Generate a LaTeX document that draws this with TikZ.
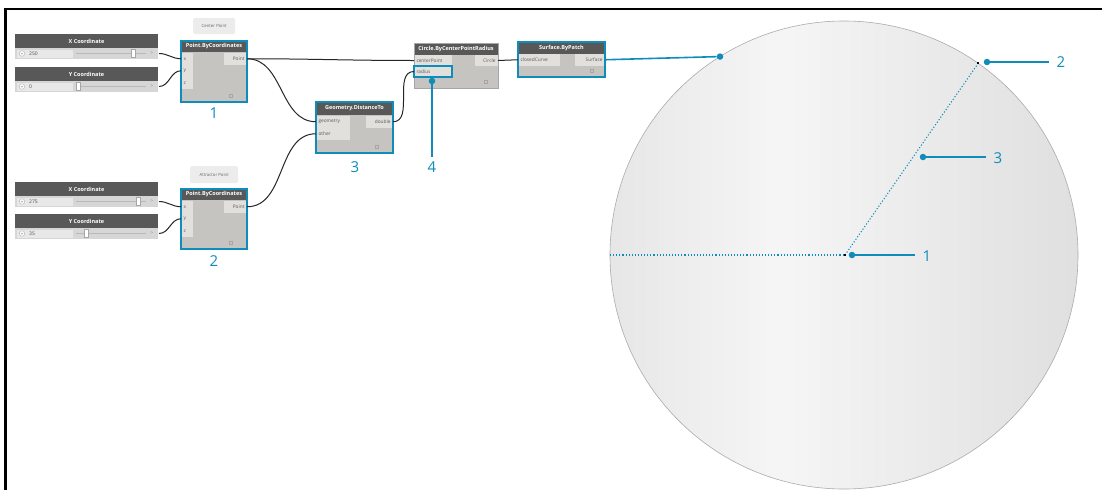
\documentclass[tikz,border=0pt]{standalone}
\usepackage{fontspec}
\setmainfont{Open Sans}
\usetikzlibrary{calc}
\definecolor{dblue}{RGB}{16,140,186}
\definecolor{headgray}{RGB}{88,88,88}
\definecolor{bodygray}{RGB}{198,196,192}
\definecolor{portgray}{RGB}{226,224,220}
\definecolor{slidergray}{RGB}{214,214,214}
\definecolor{valgray}{RGB}{232,232,232}
\definecolor{notegray}{RGB}{236,236,236}
\tikzset{
  headfont/.style={font=\bfseries\fontsize{5.5}{6.5}\selectfont},
  portfont/.style={font=\fontsize{4.8}{5.5}\selectfont},
  dhead/.style={rectangle, fill=headgray, text=white, headfont, inner sep=0pt, outer sep=0pt, anchor=north west},
  dbody/.style={rectangle, fill=bodygray, inner sep=0pt, outer sep=0pt, anchor=north west},
  dborder/.style={draw=dblue, line width=1.4pt},
  gborder/.style={draw=gray!70, line width=0.6pt},
  portin/.style={rectangle, fill=portgray, portfont, text=black!65, inner xsep=2.5pt, inner ysep=1pt, outer sep=0pt, anchor=north west, minimum height=11.5pt, text width=#1, align=left},
  portout/.style={rectangle, fill=portgray, portfont, text=black!65, inner xsep=2.5pt, inner ysep=1pt, outer sep=0pt, anchor=north east, minimum height=11.5pt, text width=#1, align=right},
  sliderhead/.style={rectangle, fill=headgray, text=white, headfont, minimum width=143pt, minimum height=14pt, inner sep=0pt, outer sep=0pt, anchor=north west},
  sliderbody/.style={rectangle, fill=slidergray, minimum width=143pt, minimum height=11pt, inner sep=0pt, outer sep=0pt, anchor=north west},
  notebox/.style={rectangle, rounded corners=1.5pt, fill=notegray, text=black!60, font=\fontsize{4.3}{5}\selectfont, inner sep=0pt, anchor=north west},
  wire/.style={draw=black!85, line width=1pt},
  callout/.style={draw=dblue, line width=1.6pt},
  bdot/.style={circle, fill=dblue, inner sep=0pt, minimum size=6.5pt},
  numlabel/.style={text=dblue, font=\fontsize{15}{16}\selectfont, inner sep=0pt},
  dotline/.style={draw=dblue, line width=1.1pt, dotted},
}
\newcommand\dynslider[5]{%
  \node[sliderhead] (#1h) at (15,#2) {#3};
  \node[sliderbody] (#1) at (15,{#2+14}) {};
  \fill[valgray] (17,{#2+15.5}) rectangle (73,{#2+23.5});
  \draw[gray!60, fill=white, line width=0.4pt] (22,{#2+19.5}) circle (2.8pt);
  \draw[gray!80, line width=0.4pt] (20.8,{#2+18.8}) -- (22,{#2+20.3}) -- (23.2,{#2+18.8});
  \node[anchor=west, font=\fontsize{5}{6}\selectfont, text=black!70, inner sep=0pt] (#1v) at (29,{#2+19.7}) {#4};
  \draw[gray!55, line width=0.6pt] (76,{#2+19.5}) -- (146,{#2+19.5});
  \draw[gray!70, fill=white, line width=0.4pt] ({#5-2},{#2+15.5}) rectangle ({#5+2},{#2+23.5});
  \node[font=\fontsize{4.5}{5}\selectfont, text=gray, inner sep=0pt] (#1g) at (152,{#2+19.5}) {>};
  \coordinate (#1o) at (159,{#2+19.5});
}
\begin{document}
\begin{tikzpicture}[x=1pt,y=-1pt]
\useasboundingbox (0,0) rectangle (1103,490);
\fill[white] (0,0) rectangle (1103,490);
\draw[line width=2.6pt] (5.5,490) -- (5.5,9) -- (1102,9);

% ---------- sliders ----------
\dynslider{s1}{34}{X Coordinate}{250}{133}
\dynslider{s2}{67}{Y Coordinate}{0}{78}
\dynslider{s3}{182}{X Coordinate}{275}{138}
\dynslider{s4}{214}{Y Coordinate}{35}{86}

% ---------- notes ----------
\node[notebox, minimum width=42pt, minimum height=16pt] (n1) at (193,18) {Center Point};
\node[notebox, minimum width=48pt, minimum height=17pt] (n2) at (190,166) {Attractor Point};

% ---------- Point.ByCoordinates 1 ----------
\node[dbody, minimum width=66pt, minimum height=61pt] (p1) at (181,41) {};
\node[dhead, minimum width=66pt, minimum height=11pt] (p1h) at (181,41) {Point.ByCoordinates};
\node[portin=7pt] (p1x) at (181,53) {x};
\node[portin=7pt] (p1y) at (181,65) {y};
\node[portin=7pt] (p1z) at (181,77) {z};
\node[portout=18pt] (p1o) at (247,53) {Point};
\draw[gray!70, line width=0.4pt] (229,94) rectangle (232,97);
\draw[dborder] (p1.north west) rectangle (p1.south east);
\node[numlabel] (l1) at (214,113) {1};

% ---------- Point.ByCoordinates 2 ----------
\node[dbody, minimum width=66pt, minimum height=60pt] (p2) at (181,189) {};
\node[dhead, minimum width=66pt, minimum height=11pt] (p2h) at (181,189) {Point.ByCoordinates};
\node[portin=7pt] (p2x) at (181,201) {x};
\node[portin=7pt] (p2y) at (181,213) {y};
\node[portin=7pt] (p2z) at (181,225) {z};
\node[portout=18pt] (p2o) at (247,201) {Point};
\draw[gray!70, line width=0.4pt] (229,241) rectangle (232,244);
\draw[dborder] (p2.north west) rectangle (p2.south east);
\node[numlabel] (l2) at (214,261) {2};

% ---------- Geometry.DistanceTo ----------
\node[dbody, minimum width=77pt, minimum height=51pt] (gd) at (316,102) {};
\node[dhead, minimum width=77pt, minimum height=13pt] (gdh) at (316,102) {Geometry.DistanceTo};
\node[portin=29pt] (gg) at (316,116) {geometry};
\node[portin=29pt] (go) at (316,128) {other};
\node[portout=22pt] (gdo) at (393,116) {double};
\draw[gray!70, line width=0.4pt] (375,145) rectangle (378,148);
\draw[dborder] (gd.north west) rectangle (gd.south east);
\node[numlabel] (l3) at (355,167) {3};

% ---------- Circle.ByCenterPointRadius ----------
\node[dbody, minimum width=84pt, minimum height=45pt] (cb) at (414,43) {};
\node[dhead, minimum width=84pt, minimum height=12pt] (cbh) at (414,43) {Circle.ByCenterPointRadius};
\node[portin=33pt, minimum height=11pt] (cc) at (414,55) {centerPoint};
\node[portin=33pt, minimum height=11pt] (cr) at (414,66) {radius};
\node[portout=18pt, minimum height=11pt] (co) at (498,55) {Circle};
\draw[gray!70, line width=0.4pt] (484,80) rectangle (487,83);
\draw[gborder] (cb.north west) rectangle (cb.south east);
\draw[dborder] (cr.north west) rectangle (cr.south east);

% ---------- Surface.ByPatch ----------
\node[dbody, minimum width=87pt, minimum height=35pt] (sp) at (518,42) {};
\node[dhead, minimum width=87pt, minimum height=12pt] (sph) at (518,42) {Surface.ByPatch};
\node[portin=37pt] (sc) at (518,54) {closedCurve};
\node[portout=25pt] (so) at (605,54) {Surface};
\draw[gray!70, line width=0.4pt] (590,69) rectangle (593,72);
\draw[dborder] (sp.north west) rectangle (sp.south east);

% ---------- wires ----------
\draw[wire] (s1o) to[out=0,in=180] (p1x.west);
\draw[wire] (s2o) to[out=0,in=180] (p1y.west);
\draw[wire] (s3o) to[out=0,in=180] (p2x.west);
\draw[wire] (s4o) to[out=0,in=180] (p2y.west);
\draw[wire] (p1o.east) to[out=0,in=180] (cc.west);
\draw[wire] (p1o.east) to[out=0,in=180] (gg.west);
\draw[wire] (p2o.east) to[out=0,in=180] (go.west);
\draw[wire] (gdo.east) to[out=0,in=180] (cr.west);
\draw[wire] (co.east) -- (sc.west);

% ---------- callout 4 ----------
\node[bdot] (d4) at (432,81) {};
\node[numlabel] (l4) at (432,167) {4};
\coordinate (d4e) at (432,157);
\draw[callout] (d4) -- (d4e);

% ---------- surface circle (gradient made of strips) ----------
\begin{scope}
  \clip (844,255) circle (234pt);
  \foreach \i in {0,...,79} {
    \pgfmathsetmacro\xa{610+\i*6}
    \pgfmathsetmacro\xm{\xa+3}
    \pgfmathtruncatemacro\v{\xm<780 ? 231+(\xm-610)/170*15 : 246-(\xm-780)/298*22}
    \fill[fill={rgb,255:red,\v;green,\v;blue,\v}] (\xa,20) rectangle ({\xa+6.6},490);
  }
\end{scope}
\node[circle, minimum size=468pt, inner sep=0pt, outer sep=0pt, draw=gray!65, line width=0.6pt] (surf) at (844,255) {};
\coordinate (ctr) at (845,255);
\coordinate (att) at (surf.55);
\draw[dotline] (surf.west) -- (ctr);
\draw[dotline] (ctr) -- (att);
\fill[black] ($(ctr)+(-1,-1)$) rectangle ($(ctr)+(1,1)$);
\fill[black] ($(att)+(-1,-1)$) rectangle ($(att)+(1,1)$);

% callouts on the circle
\node[bdot] (e0) at (surf.122.6) {};
\draw[callout] (so.east) -- (e0);

\node[bdot] (e1) at (852,255) {};
\coordinate (t1) at (915,255);
\node[numlabel] (r1) at (927,256) {1};
\draw[callout] (e1) -- (t1);

\node[bdot] (e2) at (987,62) {};
\coordinate (t2) at (1049,62);
\node[numlabel] (r2) at (1061,62) {2};
\draw[callout] (e2) -- (t2);

\node[bdot] (e3) at (923,157) {};
\coordinate (t3) at (986,157);
\node[numlabel] (r3) at (998,158) {3};
\draw[callout] (e3) -- (t3);
\end{tikzpicture}
\end{document}
